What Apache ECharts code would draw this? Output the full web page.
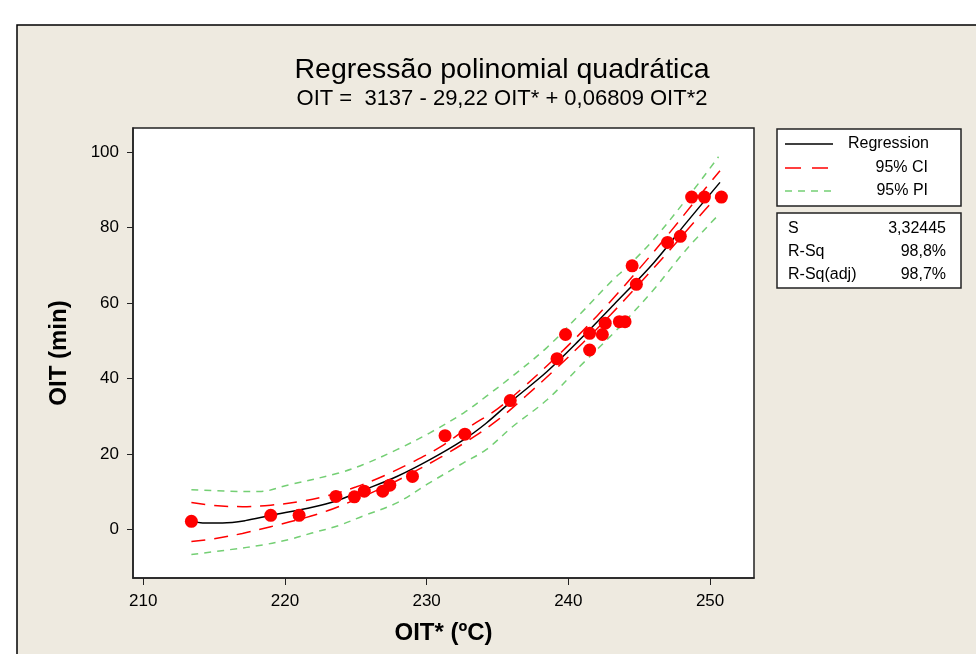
<!DOCTYPE html>
<html lang="pt">
<head>
  <meta charset="UTF-8">
  <title>Regressão polinomial quadrática</title>
  <script src="https://cdn.jsdelivr.net/npm/echarts@6/dist/echarts.min.js"></script>
  <style>
    * { padding: 0; margin: 0; }
    #box { width: 976px; height: 654px; }
  </style>
</head>
<body>
  <div id="box"></div>
  <script>
    // tick labels
    var xTicks = [210, 220, 230, 240, 250]
    var yTicks = [0, 20, 40, 60, 80, 100]

    // observed points
    var obsX = [213.4, 219.0, 221.0, 223.6, 224.9, 225.6, 226.9, 227.4, 229.0, 231.3, 232.7, 235.9, 239.2, 239.8,
      241.5, 241.5, 242.4, 242.6, 243.6, 244.0, 244.5, 244.8, 247.0, 247.9, 248.7, 249.6, 250.8]
    var obsY = [2.2, 3.8, 3.8, 8.8, 8.7, 10.2, 10.2, 11.8, 14.1, 24.9, 25.3, 34.2, 45.3, 51.7,
      52.0, 47.6, 51.7, 54.7, 55.1, 55.1, 69.9, 65.0, 76.1, 77.7, 88.1, 88.1, 88.1]

    // fitted line
    var fitX = [213.4, 214.2, 215.6, 217.2, 218.9, 222.0, 223.6, 225.5, 227.9, 230.2, 232.6, 234.2, 236.1, 238.5, 240.8, 243.2, 246.0, 248.3, 250.7]
    var fitY = [2.4, 1.8, 1.8, 2.4, 3.7, 6.0, 7.6, 10.4, 14.1, 18.5, 23.8, 28.2, 34.4, 41.9, 50.3, 59.6, 70.6, 81.2, 92.0]

    // 95% CI band
    var ciX = [213.4, 215, 217, 219, 221, 223, 225, 227, 229, 231, 233, 235, 237, 239, 241, 243, 245, 247, 249, 250.7]
    var ciUpper = [7.2, 6.4, 6.1, 6.5, 7.4, 9.0, 11.3, 14.3, 17.9, 22.0, 27.2, 32.0, 38.3, 45.2, 52.6, 60.6, 69.1, 78.0, 87.3, 95.1]
    var ciLower = [-3.1, -2.4, -1.0, 0.8, 2.7, 5.0, 8.0, 11.3, 15.1, 19.2, 23.8, 29.0, 35.4, 42.2, 49.4, 57.0, 65.1, 73.4, 82.0, 89.2]

    // 95% PI band
    var piUpX = [213.4, 216.0, 218.2, 220.3, 223.8, 225.5, 227.9, 230.2, 232.6, 234.2, 236.1, 238.5, 240.8, 243.2, 244.1, 246.0, 248.3, 250.6]
    var piUpY = [10.6, 10.2, 10.1, 11.9, 15.0, 17.2, 21.2, 25.6, 30.9, 35.3, 40.8, 48.3, 57.0, 66.4, 69.4, 76.8, 87.4, 98.8]
    var piLoX = [213.4, 216.1, 218.5, 220.3, 221.9, 223.8, 225.5, 227.9, 230.2, 232.6, 234.2, 236.1, 238.5, 240.8, 243.2, 244.1, 246.0, 248.3, 250.6]
    var piLoY = [-6.6, -5.3, -4.0, -2.6, -0.9, 1.1, 3.6, 7.1, 12.4, 17.7, 21.2, 27.4, 34.4, 43.2, 52.1, 55.6, 63.5, 74.1, 83.4]

    var legendNames = ['Regression', '95% CI', '95% PI']
    var statNames = ['S', 'R-Sq', 'R-Sq(adj)']
    var statValues = ['3,32445', '98,8%', '98,7%']

    function pairs(xs, ys) {
      var out = []
      for (let i = 0; i < xs.length; i++) out.push([xs[i], ys[i]])
      return out
    }

    var font = '"Liberation Sans", Arial, sans-serif'
    var red = '#ff0000'
    var green = '#74cf74'

    function curve(name, data, color, dash) {
      return {
        name: name, type: 'line', data: data, smooth: 0.35, showSymbol: false, silent: true,
        lineStyle: { color: color, width: 1.5, type: dash }
      }
    }

    // outer frame, legend + stats boxes
    var graphics = [
      { type: 'rect', z: -10, shape: { x: 17, y: 25, width: 1000, height: 700 },
        style: { fill: '#eeeae0', stroke: '#000', lineWidth: 1.5 } },
      { type: 'rect', z: 10, shape: { x: 777, y: 129, width: 184, height: 77 },
        style: { fill: '#fff', stroke: '#222', lineWidth: 1.5 } },
      { type: 'rect', z: 10, shape: { x: 777, y: 213, width: 184, height: 75 },
        style: { fill: '#fff', stroke: '#222', lineWidth: 1.5 } },
      { type: 'line', z: 11, shape: { x1: 785, y1: 144, x2: 833, y2: 144 }, style: { stroke: '#000', lineWidth: 1.5 } },
      { type: 'line', z: 11, shape: { x1: 785, y1: 168, x2: 833, y2: 168 }, style: { stroke: red, lineWidth: 1.5, lineDash: [16, 11] } },
      { type: 'line', z: 11, shape: { x1: 785, y1: 191, x2: 835, y2: 191 }, style: { stroke: green, lineWidth: 1.5, lineDash: [7, 6] } }
    ]
    var legendY = [144, 168, 191]
    for (let i = 0; i < legendNames.length; i++) {
      graphics.push({
        type: 'text', z: 11, x: i === 0 ? 848 : 928, y: legendY[i],
        style: { text: legendNames[i], font: '16px ' + font, fill: '#000',
          align: i === 0 ? 'left' : 'right', verticalAlign: 'middle' }
      })
    }
    var statY = [229, 252, 275]
    for (let i = 0; i < statNames.length; i++) {
      graphics.push({
        type: 'text', z: 11, x: 788, y: statY[i],
        style: { text: statNames[i], font: '16px ' + font, fill: '#000', verticalAlign: 'middle' }
      })
      graphics.push({
        type: 'text', z: 11, x: 946, y: statY[i],
        style: { text: statValues[i], font: '16px ' + font, fill: '#000', align: 'right', verticalAlign: 'middle' }
      })
    }

    var mCharts = echarts.init(document.getElementById('box'))
    var option = {
      backgroundColor: '#ffffff',
      animation: false,
      title: {
        text: 'Regressão polinomial quadrática',
        subtext: 'OIT =  3137 - 29,22 OIT* + 0,06809 OIT*2',
        left: 497, top: 51, textAlign: 'center', itemGap: 3,
        textStyle: { fontFamily: font, fontSize: 28.5, fontWeight: 'normal', color: '#000' },
        subtextStyle: { fontFamily: font, fontSize: 22, color: '#000' }
      },
      grid: {
        left: 133, top: 128, width: 621, height: 450, show: true,
        backgroundColor: '#fff', borderColor: '#222', borderWidth: 1.5
      },
      xAxis: {
        type: 'value', min: 209.28, max: 253.1,
        name: 'OIT* (ºC)', nameLocation: 'middle', nameGap: 43,
        nameTextStyle: { fontFamily: font, fontSize: 24, fontWeight: 'bold', color: '#000' },
        axisLine: { show: true, onZero: false, lineStyle: { color: '#222', width: 1.5 } },
        axisTick: { show: true, length: 7, customValues: xTicks, lineStyle: { color: '#222' } },
        axisLabel: { customValues: xTicks, margin: 15, fontFamily: font, fontSize: 17, color: '#000' },
        splitLine: { show: false }
      },
      yAxis: {
        type: 'value', min: -12.8, max: 106.4,
        name: 'OIT (min)', nameLocation: 'middle', nameGap: 62,
        nameTextStyle: { fontFamily: font, fontSize: 24, fontWeight: 'bold', color: '#000' },
        axisLine: { show: true, onZero: false, lineStyle: { color: '#222', width: 1.5 } },
        axisTick: { show: true, length: 6, customValues: yTicks, lineStyle: { color: '#222' } },
        axisLabel: { customValues: yTicks, margin: 14, fontFamily: font, fontSize: 17, color: '#000' },
        splitLine: { show: false }
      },
      graphic: graphics,
      series: [
        curve('95% PI', pairs(piUpX, piUpY), green, [7, 6]),
        curve('95% PI', pairs(piLoX, piLoY), green, [7, 6]),
        curve('95% CI', pairs(ciX, ciUpper), red, [14, 9]),
        curve('95% CI', pairs(ciX, ciLower), red, [14, 9]),
        curve('Regression', pairs(fitX, fitY), '#000', 'solid'),
        {
          name: 'OIT', type: 'scatter', data: pairs(obsX, obsY), symbolSize: 13,
          itemStyle: { color: red, opacity: 1 }, z: 5
        }
      ]
    }
    mCharts.setOption(option)
  </script>
</body>
</html>
